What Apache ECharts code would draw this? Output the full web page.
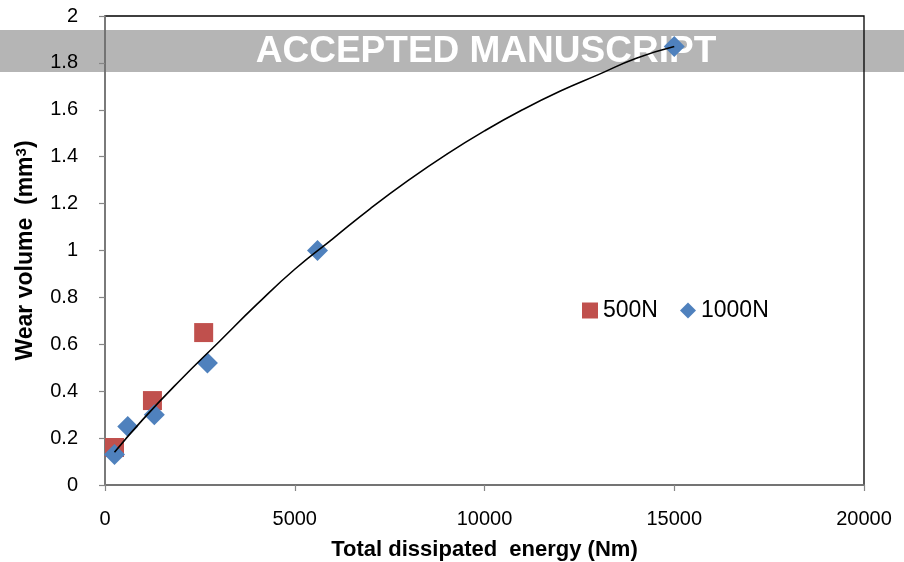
<!DOCTYPE html>
<html>
<head>
<meta charset="utf-8">
<script src="https://cdn.jsdelivr.net/npm/echarts@6/dist/echarts.min.js"></script>
<style>
  html, body { margin: 0; padding: 0; background: #fff; }
  #chart { width: 904px; height: 562px; }
</style>
</head>
<body>
<div id="chart"></div>
<script>
// Wear volume vs. total dissipated energy, two normal loads
const series500N = [[250, 0.16], [1250, 0.36], [2600, 0.65]];
const series1000N = [[250, 0.13], [600, 0.25], [1300, 0.30], [2700, 0.52], [5600, 1.00], [15000, 1.87]];
// fitted trend curve, sampled along its length
const trendCurve = [
  [250, 0.14], [1000, 0.28], [2000, 0.45], [3000, 0.61], [4000, 0.77], [5000, 0.92],
  [6000, 1.05], [7000, 1.18], [8000, 1.30], [9000, 1.41], [10000, 1.51], [11000, 1.60],
  [12000, 1.68], [13000, 1.75], [14000, 1.82], [15000, 1.87]
];
const xTicks = ['0', '5000', '10000', '15000', '20000'];
const yTicks = ['0', '0.2', '0.4', '0.6', '0.8', '1', '1.2', '1.4', '1.6', '1.8', '2'];

const FONT = 'Liberation Sans';
const chart = echarts.init(document.getElementById('chart'), null, { renderer: 'canvas' });

chart.setOption({
  animation: false,
  backgroundColor: '#fff',
  graphic: [
    {
      type: 'rect', z: -10, silent: true,
      shape: { x: 0, y: 30, width: 904, height: 42 },
      style: { fill: '#b5b5b5' }
    },
    {
      type: 'text', z: -9, silent: true,
      x: 486, y: 52,
      style: {
        text: 'ACCEPTED MANUSCRIPT', fill: '#fff',
        font: 'bold 37px "Liberation Sans", Arial, sans-serif',
        textAlign: 'center', textVerticalAlign: 'middle'
      }
    }
  ],
  grid: {
    left: 105, right: 40, top: 16, bottom: 77,
    containLabel: false, outerBoundsMode: 'none',
    show: true, borderColor: '#000', borderWidth: 1.3, backgroundColor: 'transparent'
  },
  legend: {
    left: 577, top: 294,
    itemWidth: 16, itemHeight: 16, itemGap: 22,
    textStyle: { fontFamily: FONT, fontSize: 23, color: '#000' },
    data: [
      { name: '500N', icon: 'rect' },
      { name: '1000N', icon: 'diamond' }
    ]
  },
  xAxis: {
    type: 'value', min: 0, max: 20000, interval: 5000,
    name: 'Total dissipated  energy (Nm)',
    nameLocation: 'middle', nameGap: 54,
    nameTextStyle: { fontFamily: FONT, fontSize: 22, fontWeight: 'bold', color: '#000' },
    axisLine: { show: true, onZero: false, lineStyle: { color: '#868686', width: 1.5 } },
    axisTick: { show: true, inside: false, length: 6, lineStyle: { color: '#868686', width: 1.2 } },
    axisLabel: {
      margin: 24, fontFamily: FONT, fontSize: 20, color: '#000',
      formatter: (v) => xTicks[Math.round(v / 5000)]
    },
    splitLine: { show: false }
  },
  yAxis: {
    type: 'value', min: 0, max: 2, interval: 0.2,
    name: '{t|Wear volume  (mm}{s|3}{t|)}',
    nameLocation: 'middle', nameGap: 68, nameRotate: 90,
    nameTextStyle: {
      rich: {
        t: { fontFamily: FONT, fontSize: 23, fontWeight: 'bold', color: '#000' },
        s: { fontFamily: FONT, fontSize: 15, fontWeight: 'bold', color: '#000', verticalAlign: 'top', padding: [0, 0, 8, 0] }
      }
    },
    axisLine: { show: true, lineStyle: { color: '#868686', width: 1.5 } },
    axisTick: { show: true, inside: false, length: 6, lineStyle: { color: '#868686', width: 1.2 } },
    axisLabel: {
      margin: 27, fontFamily: FONT, fontSize: 20, color: '#000',
      formatter: (v) => yTicks[Math.round(v / 0.2)]
    },
    splitLine: { show: false }
  },
  series: [
    {
      name: '500N', type: 'scatter', z: 2,
      symbol: 'rect', symbolSize: 19,
      itemStyle: { color: '#c0504d', opacity: 1 },
      data: series500N
    },
    {
      name: '1000N', type: 'scatter', z: 2,
      symbol: 'diamond', symbolSize: 21,
      itemStyle: { color: '#4f81bd', opacity: 1 },
      data: series1000N
    },
    {
      name: 'trend', type: 'line', z: 3,
      smooth: 0.5, showSymbol: false, silent: true,
      lineStyle: { color: '#000', width: 1.6 },
      data: trendCurve
    }
  ]
});
</script>
</body>
</html>
